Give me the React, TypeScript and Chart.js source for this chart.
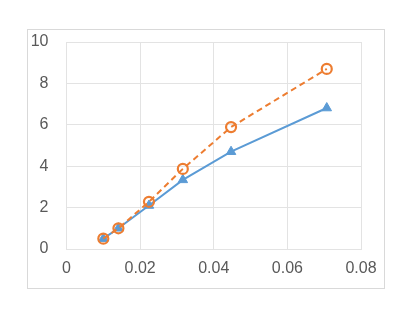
import React, { useEffect, useRef } from "react";
import { Chart, registerables } from "chart.js";

Chart.register(...registerables);

const xValues = [0.01, 0.0141, 0.0224, 0.0316, 0.0447, 0.0707];
const seriesOrange = [0.5, 1.0, 2.28, 3.87, 5.89, 8.7];
const seriesBlue = [0.5, 1.0, 2.1, 3.34, 4.7, 6.81];
const xTicks = [0, 0.02, 0.04, 0.06, 0.08];
const yTicks = [0, 2, 4, 6, 8, 10];

export default function App() {
  const ref = useRef<HTMLCanvasElement | null>(null);
  useEffect(() => {
    document.body.style.margin = "0";
    const ctx = ref.current!;
    const font = { family: "'Liberation Sans', 'DejaVu Sans', sans-serif", size: 16 };
    const chart = new Chart(ctx, {
      type: "scatter",
      data: {
        datasets: [
          {
            label: "orange",
            data: xValues.map((x, i) => ({ x, y: seriesOrange[i] })),
            showLine: true,
            borderColor: "#ed7d31",
            borderWidth: 2,
            borderDash: [6, 4],
            pointStyle: "circle",
            pointRadius: 5,
            pointBorderWidth: 2.2,
            pointBorderColor: "#ed7d31",
            pointBackgroundColor: "rgba(0,0,0,0)",
          },
          {
            label: "blue",
            data: xValues.map((x, i) => ({ x, y: seriesBlue[i] })),
            showLine: true,
            borderColor: "#5b9bd5",
            borderWidth: 2,
            pointStyle: "triangle",
            pointRadius: 5.5,
            pointBorderWidth: 1,
            pointBorderColor: "#5b9bd5",
            pointBackgroundColor: "#5b9bd5",
          },
        ],
      },
      options: {
        animation: false,
        responsive: false,
        layout: { padding: { left: 20, top: 42, right: 54, bottom: 32 } },
        plugins: { legend: { display: false }, tooltip: { enabled: false } },
        scales: {
          x: {
            type: "linear",
            min: 0,
            max: 0.08,
            afterBuildTicks: (s: any) => {
              s.ticks = xTicks.map((v) => ({ value: v }));
            },
            afterFit: (s: any) => {
              s.height = 40;
            },
            ticks: {
              color: "#595959",
              font,
              padding: 10,
              callback: (v: any) => String(v),
            },
            grid: { color: "#e3e3e3", drawTicks: false, lineWidth: 1 },
            border: { color: "#e3e3e3" },
          },
          y: {
            type: "linear",
            min: 0,
            max: 10,
            afterBuildTicks: (s: any) => {
              s.ticks = yTicks.map((v) => ({ value: v }));
            },
            afterFit: (s: any) => {
              s.width = 46.5;
            },
            ticks: { color: "#595959", font, padding: 18 },
            grid: { color: "#e3e3e3", drawTicks: false, lineWidth: 1 },
            border: { color: "#e3e3e3" },
          },
        },
      },
    });
    return () => chart.destroy();
  }, []);
  return (
    <div style={{ position: "absolute", left: 0, top: 0, width: 415, height: 321, background: "#fff" }}>
      <div
        style={{
          position: "absolute",
          left: 27,
          top: 29,
          width: 356,
          height: 258,
          border: "1px solid #d9d9d9",
        }}
      />
      <canvas ref={ref} width={415} height={321} style={{ position: "absolute", left: 0, top: 0 }} />
    </div>
  );
}
